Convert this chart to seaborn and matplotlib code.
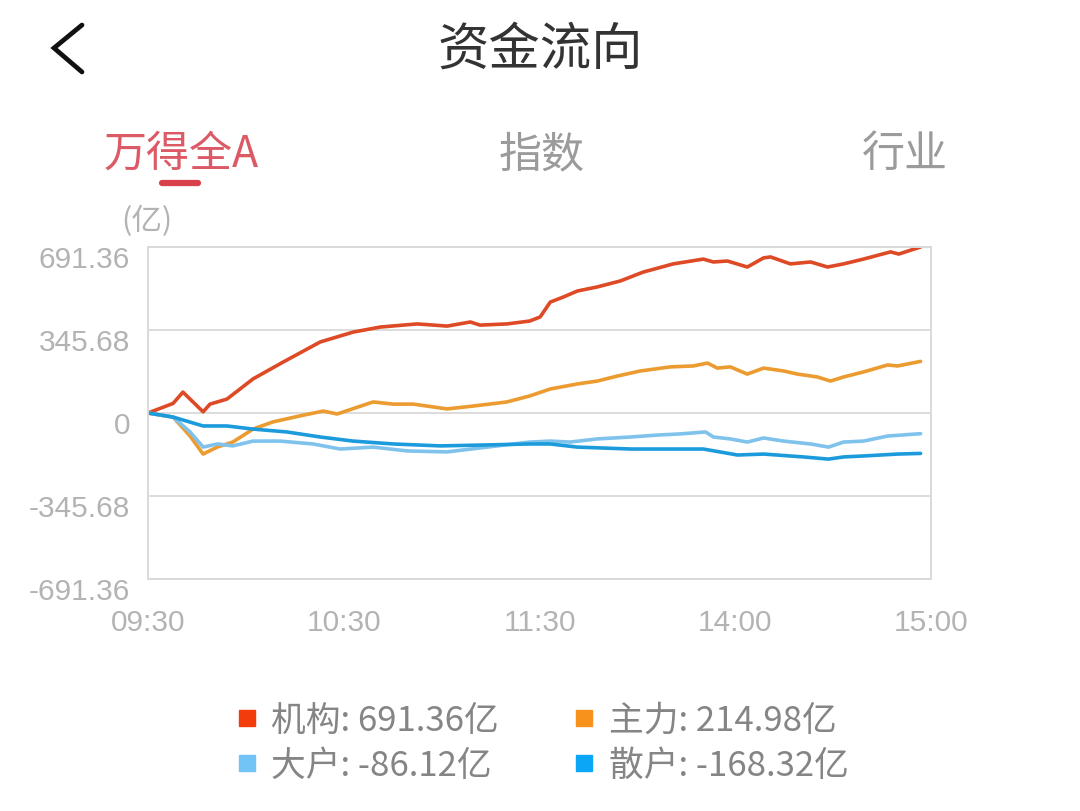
import numpy as np
import pandas as pd
import matplotlib
matplotlib.use('Agg')
import matplotlib.pyplot as plt
import matplotlib.transforms as mtransforms
from matplotlib.lines import Line2D
import seaborn as sns

# minutes since 09:30 (trading minutes, 11:30 == 13:00) and flow values (亿)
jigou_min = [0, 7.7, 10.7, 16.9, 19, 24.2, 32.2, 41.4, 52.8, 62.9, 71.2, 82.5, 91.7, 98.8, 101.8,
             110, 117, 120.2, 123.3, 127.3, 131.6, 137.7, 144.8, 151.8, 161, 170.2, 173.3, 177.6,
             183.7, 188.7, 190.8, 196.9, 203.1, 208.3, 213.2, 219.3, 227.6, 230.1, 236.8]
jigou_val = [0, 40, 87, 5, 37, 58, 142, 212, 296, 337, 358, 371, 362, 379, 366,
             371, 383, 400, 462, 483, 508, 525, 550, 587, 621, 641, 629, 633,
             608, 646, 650, 621, 629, 608, 621, 641, 671, 662, 691.36]

zhuli_min = [0, 7.7, 12.9, 16.9, 21.2, 26, 32.2, 38.3, 46.6, 53.7, 58, 69, 75.2, 81.3, 91.7,
             99.7, 110, 117, 123.3, 131.6, 137.7, 143.9, 150.9, 160.1, 167.2, 171.5, 174.5,
             178.5, 183.7, 188.7, 194.8, 199.1, 205.2, 209.2, 213.2, 219.3, 226.7, 229.8, 236.8]
zhuli_val = [0, -17, -96, -171, -142, -121, -67, -37, -12, 8, -4, 46, 37, 37, 17,
             29, 46, 71, 100, 121, 133, 154, 175, 192, 196, 208, 187,
             192, 162, 187, 175, 162, 150, 133, 150, 171, 200, 196, 214.98]

dahu_min = [0, 7.7, 12.9, 16.9, 21.2, 26, 32.2, 40.5, 50.6, 58.9, 69, 79.4, 91.7, 104, 117,
            123.3, 129.4, 137.7, 147.9, 156.1, 163.2, 170.9, 173.3, 178.5, 183.7, 188.7,
            194.8, 203.1, 208.6, 213.2, 219.3, 226.7, 236.8]
dahu_val = [0, -17, -79, -142, -129, -137, -117, -117, -129, -150, -142, -158, -162, -142, -121,
            -117, -121, -108, -100, -92, -87, -79, -100, -108, -121, -104,
            -117, -129, -142, -121, -117, -96, -86.12]

sanhu_min = [0, 7.7, 16.9, 24.2, 32.2, 42.6, 52.8, 62.9, 75.2, 89.6, 104, 117, 123.3, 131.6,
             147.9, 170.2, 180.7, 188.7, 200.9, 208.6, 213.2, 219.3, 229.8, 236.8]
sanhu_val = [0, -17, -54, -54, -67, -79, -100, -117, -129, -137, -133, -129, -129, -142,
             -150, -150, -175, -171, -183, -192, -183, -179, -171, -168.32]

series_names = ['机构', '主力', '大户', '散户']
line_colors = ['#de4a26', '#ec9b30', '#7fc3ec', '#1c9bdc']
legend_colors = ['#f23c0c', '#f7931c', '#72c3f6', '#0ba6f5']
legend_values = ['691.36亿', '214.98亿', '-86.12亿', '-168.32亿']

y_ticks = [-691.36, -345.68, 0, 345.68, 691.36]
y_ticklabels = ['-691.36', '-345.68', '0', '345.68', '691.36']
x_ticks = [0, 60, 120, 180, 240]
x_ticklabels = ['09:30', '10:30', '11:30', '14:00', '15:00']

frames = []
for name, mins, vals in zip(series_names,
                            [jigou_min, zhuli_min, dahu_min, sanhu_min],
                            [jigou_val, zhuli_val, dahu_val, sanhu_val]):
    frames.append(pd.DataFrame({'minute': mins, 'value': vals, 'series': name}))
df = pd.concat(frames, ignore_index=True)

sns.set_style('white')
plt.rcParams['font.family'] = ['Noto Sans CJK SC', 'DejaVu Sans']

W, H = 1080, 812
fig = plt.figure(figsize=(W / 100, H / 100), dpi=100)
fig.patch.set_facecolor('white')
ax = fig.add_axes([148 / W, 1 - 580 / H, (931 - 148) / W, (580 - 248) / H])

sns.lineplot(data=df, x='minute', y='value', hue='series', hue_order=series_names,
             palette=line_colors, linewidth=2.6, legend=False, ax=ax, sort=False)

ax.set_xlim(0, 240)
ax.set_ylim(-691.36, 691.36)
ax.set_xticks(x_ticks)
ax.set_xticklabels(x_ticklabels)
ax.set_yticks(y_ticks)
ax.set_yticklabels(y_ticklabels)
ax.set_xlabel('')
ax.set_ylabel('')
ax.tick_params(length=0, labelsize=21.5, labelcolor='#b3b3b3')
ax.tick_params(axis='y', pad=13)
ax.tick_params(axis='x', pad=21)
for lab in ax.get_xticklabels() + ax.get_yticklabels():
    lab.set_family(['Liberation Sans', 'DejaVu Sans'])
ax.yaxis.grid(True, color='#d9d9d9', linewidth=1.3)
ax.xaxis.grid(False)
for sp in ax.spines.values():
    sp.set_visible(True)
    sp.set_color('#d9d9d9')
    sp.set_linewidth(1.4)

# y labels sit a little below their grid lines
offset = mtransforms.ScaledTranslation(0, -9 / 100, fig.dpi_scale_trans)
for lab in ax.get_yticklabels():
    lab.set_transform(lab.get_transform() + offset)

# header
fig.add_artist(Line2D([82 / W, 54 / W, 82 / W], [1 - 26 / H, 1 - 49 / H, 1 - 73 / H],
                      color='#111111', linewidth=3.4, solid_joinstyle='miter'))
fig.text(540 / W, 1 - 50 / H, '资金流向', ha='center', va='center', fontsize=37, color='#333333')
fig.text(181 / W, 1 - 155 / H, '万得全A', ha='center', va='center', fontsize=31, color='#dc5a66')
fig.text(542 / W, 1 - 155 / H, '指数', ha='center', va='center', fontsize=31, color='#9b9b9b')
fig.text(905 / W, 1 - 155 / H, '行业', ha='center', va='center', fontsize=31, color='#9b9b9b')
fig.add_artist(Line2D([162 / W, 198 / W], [1 - 184 / H, 1 - 184 / H], color='#d8414b',
                      linewidth=4.5, solid_capstyle='round'))
fig.text(147 / W, 1 - 221 / H, '(亿)', ha='center', va='center', fontsize=22, color='#b3b3b3')

# legend
handles = []
labels = []
for i in [0, 2, 1, 3]:
    handles.append(Line2D([], [], marker='s', linestyle='', markersize=11,
                          color=legend_colors[i]))
    labels.append(series_names[i] + ': ' + legend_values[i])
leg = fig.legend(handles, labels, ncol=2, loc='center', bbox_to_anchor=(540 / W, 1 - 744 / H),
                 frameon=False, fontsize=25, labelcolor='#858585', handletextpad=0.25,
                 columnspacing=2.0, labelspacing=0.3, handlelength=0.9)

fig.savefig('out.png', dpi=100)
